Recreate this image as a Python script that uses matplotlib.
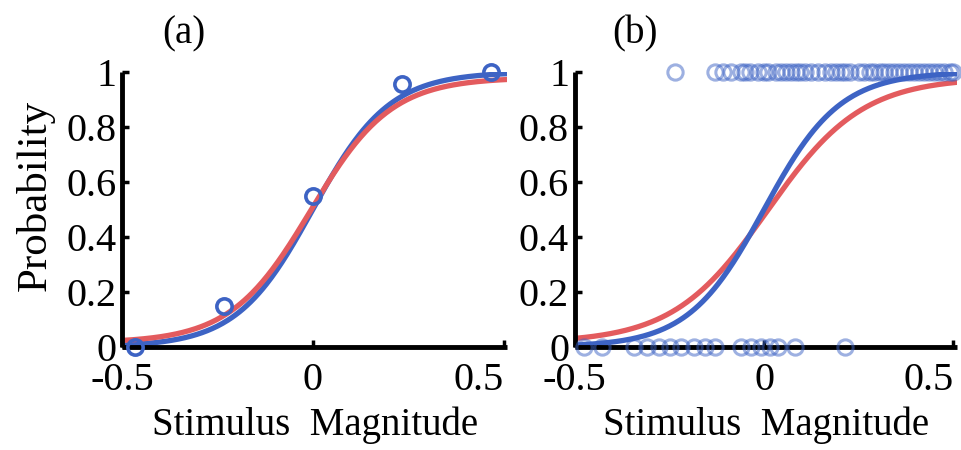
import numpy as np
import matplotlib
matplotlib.use("Agg")
import matplotlib.pyplot as plt

# panel (a): binned proportions
stim_a = [-0.467, -0.233, 0.0, 0.233, 0.467]
prob_a = [0.0, 0.15, 0.55, 0.955, 1.0]

# panel (b): single-trial responses
stim_b_yes = [-0.234, -0.129, -0.108, -0.087, -0.06, -0.05, -0.037, -0.016, 0.0,
              0.01, 0.031, 0.045, 0.058, 0.07, 0.084, 0.095, 0.108, 0.125, 0.142,
              0.16, 0.176, 0.19, 0.202, 0.215, 0.228, 0.25, 0.265, 0.28, 0.291,
              0.305, 0.318, 0.33, 0.344, 0.357, 0.37, 0.383, 0.396, 0.41, 0.423,
              0.436, 0.449, 0.462, 0.475, 0.49, 0.5]
stim_b_no = [-0.475, -0.428, -0.344, -0.31, -0.278, -0.247, -0.218, -0.186,
             -0.155, -0.129, -0.06, -0.034, -0.008, 0.016, 0.037, 0.081, 0.213]

# fitted psychometric functions: (slope, threshold, guess, lapse)
fit_a_blue = (10.0, 0.0, 0.0, 0.0)
fit_a_red = (9.5, -0.005, 0.015, 0.02)
fit_b_blue = (10.0, 0.0, 0.0, 0.0)
fit_b_red = (8.0, 0.01, 0.015, 0.02)

BLUE = "#3d63c4"
RED = "#e35b5e"
FS = 29

plt.rcParams["font.family"] = ["Liberation Serif", "DejaVu Serif"]
plt.rcParams["font.size"] = FS


def psych(x, params):
    k, x0, g, l = params
    return g + (1 - g - l) / (1 + np.exp(-k * (x - x0)))


def style_axes(ax):
    ax.set_xlim(-0.5, 0.51)
    ax.set_ylim(0, 1)
    for side in ["top", "right"]:
        ax.spines[side].set_visible(False)
    for side in ["left", "bottom"]:
        ax.spines[side].set_linewidth(3.5)
        ax.spines[side].set_capstyle("butt")
    ax.set_xticks([-0.5, 0, 0.5])
    ax.set_xticklabels(["-0.5", "0", "0.5"])
    ax.get_xticklabels()[-1].set_horizontalalignment("right")
    ax.set_yticks([0, 0.2, 0.4, 0.6, 0.8, 1])
    ax.set_yticklabels(["0", "0.2", "0.4", "0.6", "0.8", "1"])
    ax.tick_params(axis="both", direction="in", length=5, width=2.5, labelsize=FS)
    ax.tick_params(axis="x", pad=11)
    ax.tick_params(axis="y", pad=4)
    ax.set_xlabel("Stimulus  Magnitude", fontsize=28, va="center")
    ax.xaxis.set_label_coords(0.5, -0.285)


fig = plt.figure(figsize=(9.61, 4.5), dpi=100)
ax1 = fig.add_axes([0.127, 0.229, 0.401, 0.611])
ax2 = fig.add_axes([0.598, 0.229, 0.398, 0.611])

xs = np.linspace(-0.5, 0.51, 300)

# (a)
style_axes(ax1)
ax1.plot(xs, psych(xs, fit_a_blue), color=BLUE, lw=3.8, solid_capstyle="butt")
ax1.plot(xs, psych(xs, fit_a_red), color=RED, lw=3.8, solid_capstyle="butt")
ax1.plot(stim_a, prob_a, "o", mfc="none", mec=BLUE, mew=2.6, ms=11, clip_on=False, zorder=5)
ax1.set_ylabel("Probability", fontsize=31, va="center")
ax1.yaxis.set_label_coords(-0.225, 0.55)
ax1.text(0.16, 1.07, "(a)", transform=ax1.transAxes, ha="center", va="bottom", fontsize=28)

# (b)
style_axes(ax2)
ax2.plot(xs, psych(xs, fit_b_red), color=RED, lw=3.8, solid_capstyle="butt")
ax2.plot(xs, psych(xs, fit_b_blue), color=BLUE, lw=3.8, solid_capstyle="butt")
ax2.plot(stim_b_yes, np.ones(len(stim_b_yes)), "o", mfc="none", mec=BLUE, mew=2.2,
         ms=11, alpha=0.5, clip_on=False, zorder=5)
ax2.plot(stim_b_no, np.zeros(len(stim_b_no)), "o", mfc="none", mec=BLUE, mew=2.2,
         ms=11, alpha=0.5, clip_on=False, zorder=5)
ax2.text(0.157, 1.07, "(b)", transform=ax2.transAxes, ha="center", va="bottom", fontsize=28)

fig.savefig("out.png", dpi=100)
